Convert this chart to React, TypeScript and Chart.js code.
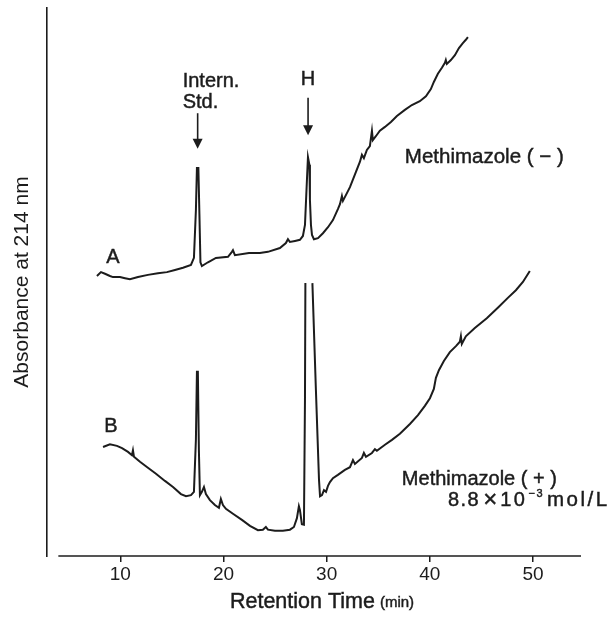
import React, { useEffect, useRef } from "react";
import { Chart, registerables } from "chart.js";

Chart.register(...registerables);

const FONT = '"Liberation Sans", Arial, Helvetica, sans-serif';
const INK = "#1c1c1c";

// Trace A : Methimazole (−)  — retention time (min) / absorbance (arb. units)
const timeA = [7.74, 8.13, 8.52, 9.0, 9.29, 9.97, 10.46, 10.94, 11.72, 12.68, 13.65, 14.52, 15.3, 16.08, 16.85, 17.14, 17.33, 17.43, 17.57, 17.67, 17.77, 17.91, 18.5, 19.27, 20.44, 20.82, 20.92, 21.11, 22.47, 23.53, 24.31, 25.47, 26.05, 26.25, 26.44, 26.93, 27.41, 27.7, 27.9, 28.09, 28.19, 28.33, 28.38, 28.48, 28.58, 28.77, 29.16, 29.64, 30.13, 30.61, 31.09, 31.29, 31.48, 31.58, 32.26, 32.84, 33.22, 33.42, 33.61, 33.9, 34.19, 34.39, 34.48, 34.77, 35.16, 35.65, 36.23, 36.81, 37.58, 38.26, 39.03, 39.62, 40.1, 40.39, 40.78, 41.17, 41.46, 41.55, 41.65, 42.04, 42.43, 42.82, 43.2, 43.49, 43.69];
const absA = [51.1, 51.8, 51.5, 51.1, 50.9, 50.9, 50.7, 50.5, 50.9, 51.3, 51.6, 51.8, 52.2, 52.6, 53.1, 54.4, 63.1, 70.8, 70.8, 62.4, 53.6, 52.9, 53.6, 54.4, 54.6, 55.5, 55.8, 54.9, 55.3, 55.3, 55.5, 56.2, 57.1, 57.8, 57.3, 57.5, 57.7, 58.4, 60.4, 68.6, 72.8, 71.4, 65.0, 60.4, 58.6, 57.8, 58.0, 58.9, 60.0, 61.3, 63.3, 64.2, 65.7, 64.8, 67.3, 70.1, 71.9, 73.2, 72.6, 74.1, 74.8, 77.6, 75.9, 76.6, 77.6, 78.3, 79.2, 80.3, 81.4, 82.3, 83.0, 83.9, 85.2, 86.5, 88.0, 89.1, 90.0, 90.5, 89.8, 90.5, 91.4, 92.7, 93.6, 94.2, 94.7];

// Trace B : Methimazole (+) 8.8e-3 mol/L — null marks the off-scale top of the H peak
const timeB = [8.33, 9.0, 9.68, 10.17, 10.75, 11.13, 11.23, 11.33, 11.91, 12.68, 13.46, 14.33, 15.11, 15.88, 16.37, 16.85, 17.14, 17.33, 17.43, 17.52, 17.62, 17.72, 17.91, 18.11, 18.3, 18.69, 19.17, 19.56, 19.75, 19.95, 20.24, 20.92, 21.79, 22.57, 23.34, 23.82, 24.11, 24.31, 24.99, 25.76, 26.44, 26.83, 27.12, 27.31, 27.41, 27.6, 27.8, 27.9, 27.94, 28.28, 28.62, 28.96, 29.26, 29.36, 29.55, 29.74, 29.94, 30.13, 30.32, 30.61, 31.09, 31.77, 32.26, 32.55, 32.74, 33.42, 33.61, 33.81, 34.39, 34.68, 34.87, 35.65, 36.33, 37.1, 38.07, 38.85, 39.52, 40.01, 40.39, 40.59, 40.88, 41.36, 41.94, 42.53, 42.91, 43.01, 43.1, 43.49, 44.36, 45.52, 46.59, 47.56, 48.34, 49.02, 49.69];
const absB = [19.9, 20.4, 20.1, 19.7, 19.0, 18.4, 19.3, 18.1, 17.2, 16.1, 15.0, 13.7, 12.6, 11.3, 10.9, 11.1, 11.7, 21.2, 33.6, 33.6, 19.3, 11.1, 11.7, 12.6, 11.3, 10.2, 9.3, 8.8, 10.4, 9.3, 8.6, 7.7, 6.6, 5.5, 4.7, 4.8, 5.3, 4.8, 4.6, 4.6, 4.8, 5.3, 6.9, 9.1, 8.4, 5.8, 5.7, 28.5, 49.8, null, 49.8, 30.3, 13.9, 10.9, 11.1, 12.0, 11.7, 12.8, 13.5, 14.2, 14.8, 15.7, 16.2, 17.5, 16.8, 17.9, 18.8, 18.1, 18.8, 19.5, 19.2, 20.3, 21.2, 22.3, 24.1, 25.7, 27.4, 28.8, 30.5, 32.5, 33.9, 35.6, 37.2, 38.3, 39.1, 40.1, 38.7, 40.1, 41.6, 43.4, 45.3, 47.1, 48.5, 50.0, 52.0];

const xTicks = [10, 20, 30, 40, 50];
const xMin = 2.9;
const xMax = 54.65;
const yMin = 0;
const yMax = 100;
const xAxisStart = 4.0;

const peakIS = 17.5;
const peakH = 28.2;

// annotation text, anchored in data units
const labels = [
  { text: "Intern.", x: 16.05, y: 86.6, size: 20, align: "left", spacing: 0 },
  { text: "Std.", x: 16.05, y: 82.8, size: 20, align: "left", spacing: 0 },
  { text: "H", x: peakH, y: 86.9, size: 20, align: "center", spacing: 0 },
  { text: "A", x: 9.29, y: 54.4, size: 20, align: "center", spacing: 0 },
  { text: "B", x: 9.1, y: 23.7, size: 20, align: "center", spacing: 0 },
  { text: "Methimazole ( − )", x: 37.58, y: 72.8, size: 20.5, align: "left", spacing: 0 },
  { text: "Methimazole ( + )", x: 37.29, y: 13.9, size: 20, align: "left", spacing: 0 },
];
const arrows = [
  { x: peakIS, from: 80.8, to: 74.3 },
  { x: peakH, from: 83.6, to: 76.8 },
];

const decor = {
  id: "decor",
  afterDraw(chart: any) {
    const { ctx, chartArea, scales } = chart;
    const xs = scales.x;
    const ys = scales.y;
    const px = (v: number) => xs.getPixelForValue(v);
    const py = (v: number) => ys.getPixelForValue(v);
    ctx.save();
    ctx.strokeStyle = INK;
    ctx.fillStyle = INK;
    ctx.lineWidth = 1.6;
    ctx.beginPath();
    ctx.moveTo(px(xAxisStart), chartArea.bottom);
    ctx.lineTo(chartArea.right, chartArea.bottom);
    ctx.stroke();

    const text = (s: string, x: number, y: number, size: number, spacing = 0) => {
      ctx.font = `${size}px ${FONT}`;
      ctx.letterSpacing = `${spacing}px`;
      ctx.lineWidth = 0.45;
      ctx.fillText(s, x, y);
      ctx.strokeText(s, x, y);
      const w = ctx.measureText(s).width;
      ctx.letterSpacing = "0px";
      return w;
    };

    ctx.textBaseline = "middle";
    for (const t of labels) {
      ctx.textAlign = t.align;
      text(t.text, px(t.x), py(t.y), t.size, t.spacing);
    }

    ctx.textAlign = "left";
    for (const a of arrows) {
      const X = px(a.x);
      const Y1 = py(a.from);
      const Y2 = py(a.to);
      ctx.lineWidth = 1.6;
      ctx.beginPath();
      ctx.moveTo(X, Y1);
      ctx.lineTo(X, Y2 - 6);
      ctx.stroke();
      ctx.beginPath();
      ctx.moveTo(X - 5, Y2 - 10);
      ctx.lineTo(X + 5, Y2 - 10);
      ctx.lineTo(X, Y2);
      ctx.closePath();
      ctx.fill();
    }

    // concentration line with superscript
    let cx = px(41.75);
    const cy = py(10.1);
    cx += text("8.8", cx, cy, 20, 1.5) + 3;
    cx += text("×", cx, cy, 24, 0) + 3;
    cx += text("10", cx, cy, 20, 2.5) + 1;
    cx += text("−3", cx, cy - 6.5, 11, 1.5) + 3;
    text("mol/L", cx, cy, 20.5, 2.5);

    // x-axis title with smaller unit
    const main = "Retention Time";
    const unit = "(min)";
    ctx.font = `21.5px ${FONT}`;
    const w1 = ctx.measureText(main).width;
    ctx.font = `15px ${FONT}`;
    const w2 = ctx.measureText(unit).width;
    const gap = 5;
    const start = px(29.55) - (w1 + gap + w2) / 2;
    const ty = chartArea.bottom + 46;
    text(main, start, ty, 21.5, 0);
    text(unit, start + w1 + gap, ty + 1, 15, 0);
    ctx.restore();
  },
};

export default function App() {
  const ref = useRef<HTMLCanvasElement>(null);
  useEffect(() => {
    if (!ref.current) return;
    const line = {
      showLine: true,
      borderColor: INK,
      borderWidth: 2,
      pointRadius: 0,
      tension: 0,
      spanGaps: false,
    };
    const chart = new Chart(ref.current, {
      type: "scatter",
      data: {
        datasets: [
          { ...line, label: "A", data: timeA.map((t, i) => ({ x: t, y: absA[i] })) },
          { ...line, label: "B", data: timeB.map((t, i) => ({ x: t, y: absB[i] })) },
        ],
      },
      options: {
        animation: false,
        responsive: true,
        maintainAspectRatio: false,
        events: [],
        layout: { padding: { top: 8, right: 29, left: 0, bottom: 0 } },
        plugins: { legend: { display: false }, tooltip: { enabled: false } },
        scales: {
          x: {
            type: "linear",
            position: "bottom",
            min: xMin,
            max: xMax,
            afterFit: (s: any) => { s.height = 68; },
            afterBuildTicks: (s: any) => { s.ticks = xTicks.map((v) => ({ value: v })); },
            grid: { display: true, drawOnChartArea: false, drawTicks: true, tickLength: 6, color: INK, lineWidth: 1.5 },
            border: { display: false },
            ticks: { autoSkip: false, maxRotation: 0, padding: 1, color: INK, font: { family: FONT, size: 19 } },
          },
          y: {
            type: "linear",
            position: "left",
            min: yMin,
            max: yMax,
            afterFit: (s: any) => { s.width = 47; },
            grid: { display: false },
            border: { display: true, color: INK, width: 1.6 },
            ticks: { display: false },
            title: {
              display: true,
              text: "Absorbance at 214 nm",
              color: INK,
              font: { family: FONT, size: 21 },
              padding: { top: 10, bottom: 0 },
            },
          },
        },
      },
      plugins: [decor],
    } as any);
    return () => chart.destroy();
  }, []);
  return (
    <div style={{ position: "fixed", left: 0, top: 0, width: 610, height: 624, background: "#fff" }}>
      <canvas ref={ref} />
    </div>
  );
}
